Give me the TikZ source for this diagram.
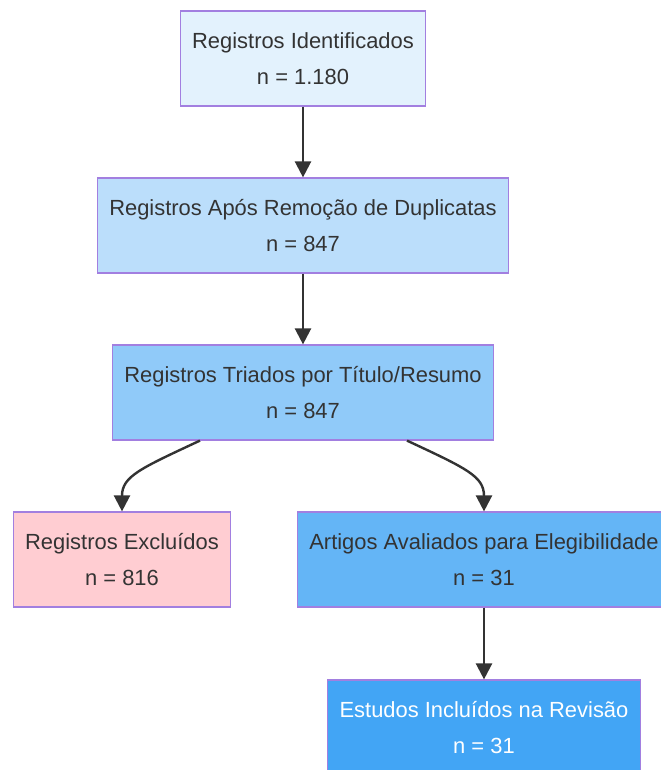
\documentclass[tikz,border=0pt]{standalone}
\usepackage{fontspec}
\setmainfont{Liberation Sans}
\usepackage{tikz}
\usetikzlibrary{arrows.meta}
\usetikzlibrary{calc}
\definecolor{boxline}{HTML}{A27FE0}
\definecolor{inkgray}{HTML}{333333}
\definecolor{shadeA}{HTML}{E3F2FD}
\definecolor{shadeB}{HTML}{BBDEFB}
\definecolor{shadeC}{HTML}{90CAF9}
\definecolor{shadeD}{HTML}{64B5F6}
\definecolor{shadeE}{HTML}{42A5F5}
\definecolor{shadeR}{HTML}{FFCDD2}
\tikzstyle{stagebox}=[rectangle,draw=boxline,line width=1.2bp,minimum height=95bp,inner xsep=12bp,align=center,font=\fontsize{22}{36}\selectfont]
\tikzstyle{edge} = [draw,line width=2.4bp,inkgray,-{Triangle[length=16bp,width=16bp]}]

\begin{document}
\begin{tikzpicture}[x=1bp,y=-1bp]
\useasboundingbox (0,0) rectangle (661,770);

    % First we draw the boxes
    \foreach \pos/\name/\shade/\ink/\label in {{(303,58.5)/ident/shadeA/inkgray/{Registros Identificados\\n = 1.180}}, {(303,225.5)/dedup/shadeB/inkgray/{Registros Após Remoção de Duplicatas\\n = 847}}, {(303,392.5)/triad/shadeC/inkgray/{Registros Triados por Título/Resumo\\n = 847}}, {(122,559.5)/excl/shadeR/inkgray/{Registros Excluídos\\n = 816}}, {(484,559.5)/eleg/shadeD/inkgray/{Artigos Avaliados para Elegibilidade\\n = 31}}, {(484,727.5)/incl/shadeE/white/{Estudos Incluídos na Revisão\\n = 31}}}
        \node[stagebox, fill=\shade, text=\ink] (\name) at \pos {\label};

    % Connect boxes with straight arrows
  \foreach \source/ \dest in {ident/dedup, dedup/triad, eleg/incl}
          \path[edge] (\source) -- (\dest);

    % Split after screening
  \path[edge] ($(triad.south)+(-103,0)$) .. controls +(-60,28) and +(0,-35) .. (excl.north);
  \path[edge] ($(triad.south)+(104,0)$) .. controls +(60,28) and +(0,-35) .. (eleg.north);

\end{tikzpicture}
\end{document}
